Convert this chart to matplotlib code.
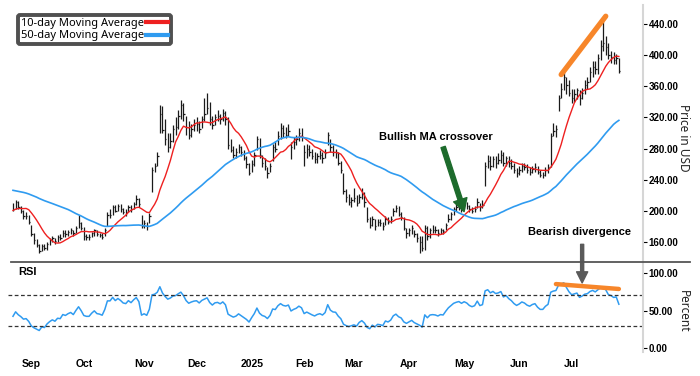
import numpy as np
import pandas as pd
import matplotlib
matplotlib.use('Agg')
import matplotlib.pyplot as plt
from matplotlib.lines import Line2D

# closes before the first visible bar (only feed the moving averages / RSI)
pre_close = [245, 240, 232, 228, 238, 242, 236, 226, 230, 234, 228, 222,
             218, 222, 228, 226, 225, 232, 236, 232, 240, 258, 262, 266, 260, 255,
             260, 255, 244, 238, 245, 248, 245, 238,
             222, 198, 182, 188, 190, 200, 196, 195, 201, 194, 192, 202, 210, 207, 205]

# daily bars, 2024-08-22 .. 2025-07-28
close = [203, 212, 205, 200, 193, 194, 186,
         170, 162, 156, 149, 155, 152, 158, 162, 165, 161, 166, 165, 172, 170, 173, 175, 171, 178, 185, 178,
         168, 166, 166, 171, 175, 170, 169, 167, 176, 195, 195, 205, 200, 206, 203, 199, 198, 205, 202, 209, 215, 209, 181,
         184, 180, 194, 253, 257, 270, 324, 304, 292, 282, 290, 305, 308, 322, 336, 325, 308, 298, 305, 310,
         312, 305, 318, 325, 332, 318, 310, 320, 322, 318, 326, 318, 285, 278, 272, 275, 282, 275, 268, 260, 248,
         260, 272, 292, 272, 262, 258, 248, 258, 282, 280, 296, 306, 300, 298, 302, 282, 288, 292, 300, 295,
         275, 280, 275, 270, 266, 270, 272, 268, 274, 298, 282, 276, 275, 262, 252, 226, 218, 212, 214,
         216, 210, 218, 222, 212, 190, 182, 190, 180, 186, 184, 180, 190, 186, 190, 200, 204, 196, 192, 178, 172,
         175, 178, 170, 165, 160, 152, 178, 168, 175, 176, 175, 172, 175, 174, 182, 190, 196, 202, 205, 207, 204,
         208, 206, 202, 200, 202, 212, 205, 207, 257, 264, 258, 266, 262, 265, 272, 262, 268, 262, 258, 252, 248,
         252, 258, 256, 252, 250, 254, 256, 250, 246, 246, 252, 256, 296, 302, 305, 345, 356, 372, 362, 352,
         345, 350, 355, 345, 352, 362, 365, 378, 385, 382, 396, 412, 415, 410, 400, 398, 394, 396, 380]
high = [210, 214, 213, 206, 201, 199, 195,
        182, 172, 164, 157, 157, 157, 160, 165, 168, 165, 169, 170, 175, 175, 176, 178, 176, 181, 195, 186,
        179, 170, 170, 173, 177, 175, 172, 171, 178, 199, 202, 208, 208, 209, 209, 204, 203, 207, 208, 212, 220, 216, 195,
        188, 186, 197, 256, 262, 275, 336, 335, 318, 300, 300, 310, 320, 330, 342, 338, 322, 315, 312, 318,
        320, 315, 322, 345, 351, 340, 322, 324, 330, 325, 331, 328, 320, 292, 283, 281, 286, 283, 278, 270, 262,
        265, 275, 296, 294, 272, 268, 256, 262, 286, 290, 302, 313, 310, 308, 312, 288, 295, 298, 306, 306,
        285, 286, 285, 280, 275, 274, 278, 276, 280, 301, 292, 284, 280, 276, 264, 248, 228, 222, 218,
        229, 220, 222, 229, 224, 205, 192, 194, 190, 190, 190, 186, 193, 192, 193, 204, 207, 206, 198, 192, 178,
        178, 182, 176, 172, 168, 168, 182, 180, 178, 182, 180, 177, 178, 177, 185, 196, 199, 205, 209, 212, 210,
        214, 212, 208, 205, 206, 216, 210, 214, 263, 272, 270, 270, 270, 274, 278, 275, 271, 270, 266, 262, 255,
        258, 262, 262, 260, 256, 258, 262, 258, 252, 250, 256, 260, 300, 313, 310, 349, 364, 383, 372, 368,
        356, 356, 358, 355, 358, 368, 372, 385, 392, 392, 402, 420, 444, 424, 415, 405, 404, 402, 396]
low = [200, 203, 203, 197, 190, 189, 183,
       168, 158, 153, 146, 148, 150, 150, 156, 160, 158, 160, 162, 166, 167, 168, 170, 168, 172, 178, 175,
       163, 162, 163, 166, 168, 168, 166, 164, 168, 180, 191, 195, 198, 200, 199, 196, 194, 198, 199, 203, 208, 205, 178,
       178, 176, 184, 224, 250, 258, 300, 300, 285, 275, 281, 288, 298, 305, 318, 315, 298, 292, 295, 302,
       303, 300, 306, 315, 325, 310, 305, 310, 316, 312, 316, 310, 280, 275, 268, 268, 274, 270, 265, 255, 246,
       250, 258, 278, 268, 256, 252, 242, 250, 264, 276, 285, 292, 295, 294, 296, 266, 280, 284, 290, 290,
       258, 268, 270, 266, 262, 262, 266, 262, 268, 285, 276, 270, 268, 259, 248, 222, 212, 208, 205,
       212, 206, 210, 215, 205, 186, 178, 180, 176, 180, 180, 176, 182, 183, 184, 194, 198, 194, 188, 175, 165,
       168, 170, 166, 160, 146, 148, 150, 162, 165, 172, 171, 168, 170, 170, 175, 186, 188, 195, 200, 201, 198,
       203, 203, 198, 197, 198, 204, 200, 204, 232, 255, 252, 256, 255, 260, 262, 258, 258, 256, 254, 248, 243,
       246, 250, 252, 248, 246, 248, 250, 247, 243, 242, 245, 249, 256, 296, 295, 328, 345, 355, 350, 348,
       338, 340, 344, 336, 344, 350, 356, 365, 372, 376, 376, 394, 405, 400, 395, 390, 388, 388, 377]

holidays = ['2024-09-02', '2024-11-28', '2024-12-25', '2025-01-01', '2025-01-09', '2025-01-20',
            '2025-02-17', '2025-04-18', '2025-05-26', '2025-06-19', '2025-07-04']
month_labels = ['Sep', 'Oct', 'Nov', 'Dec', '2025', 'Feb', 'Mar', 'Apr', 'May', 'Jun', 'Jul']

price_trend_dates = ['2025-06-25', '2025-07-21']
price_trend_vals = [375, 450]
rsi_trend_dates = ['2025-06-23', '2025-07-28']
rsi_trend_vals = [85, 78.5]

RED = '#ee2020'
BLUE = '#2f9bf0'

dates = pd.bdate_range('2024-08-22', '2025-07-28')
dates = dates[~dates.isin(pd.to_datetime(holidays))]
n = len(close)
x = np.arange(n)
pos = pd.Series(x, index=dates[:n])

allc = pd.Series(pre_close + close, dtype=float)
ma10 = allc.rolling(10).mean().values[-n:]
ma50 = allc.rolling(50).mean().values[-n:]
d = allc.diff()
ag = d.clip(lower=0).ewm(alpha=1/14, adjust=False).mean()
al = (-d).clip(lower=0).ewm(alpha=1/14, adjust=False).mean()
rsi = (100 - 100 / (1 + ag / al)).values[-n:]

plt.rcParams['font.family'] = ['Liberation Sans', 'DejaVu Sans']
fig = plt.figure(figsize=(7, 3.76), dpi=100)
ax = fig.add_axes([8/700, 1-262/376, 635/700, 257/376])
ax2 = fig.add_axes([8/700, 1-352/376, 635/700, 90/376])
for a in (ax, ax2):
    a.patch.set_visible(False)
    for s in ['top', 'left', 'bottom']:
        a.spines[s].set_visible(False)
    a.spines['right'].set_color('#d6d6d6')
    a.spines['right'].set_linewidth(1.5)
    a.set_xlim(-1.9, 240.2)
    a.yaxis.tick_right()
    a.tick_params(axis='y', length=3, width=0.8, pad=1, labelsize=7)

# price panel
ax.vlines(x, low, high, color='#1a1a1a', lw=0.9)
ax.hlines(close, x, x + 0.5, color='#1a1a1a', lw=0.9)
ax.plot(x, ma10, color=RED, lw=1.0)
ax.plot(x, ma50, color=BLUE, lw=1.2)
ax.set_ylim(134.3, 464.4)
yt = list(range(160, 441, 40))
ax.set_yticks(yt, labels=[f'{v:.2f}' for v in yt], fontweight='bold')
ax.tick_params(axis='x', bottom=False, labelbottom=False)
ax.text(1.063, 0.482, 'Price in USD', rotation=270, ha='center', va='center',
        transform=ax.transAxes, fontsize=8.5, family='Noto Sans', color='#222')

ax.plot([pos[t] for t in price_trend_dates], price_trend_vals, color='#f7862a', lw=3.8,
        solid_capstyle='round')

ax.annotate('', xy=(172, 199), xytext=(164, 282),
            arrowprops=dict(facecolor='#1d6b2c', edgecolor='#1d6b2c', width=3.2,
                            headwidth=10, headlength=9, shrink=0))
ax.text(161.3, 295, 'Bullish MA crossover', ha='center', va='center', fontweight='bold', fontsize=8)
ax.text(216, 173, 'Bearish divergence', ha='center', va='center', fontweight='bold', fontsize=8)

handles = [Line2D([], [], color=RED, lw=3), Line2D([], [], color=BLUE, lw=3)]
leg = ax.legend(handles, ['10-day Moving Average', '50-day Moving Average'], loc='upper left',
                bbox_to_anchor=(0.0157, 0.961), markerfirst=False, fancybox=True,
                edgecolor='#505050', framealpha=1, handlelength=2.0, handletextpad=0.2,
                labelspacing=0.15, borderpad=0.25, borderaxespad=0,
                prop={'family': 'Noto Sans', 'size': 8})
leg.get_frame().set_linewidth(2.8)

# RSI panel
ax2.plot(x, rsi, color=BLUE, lw=1.1)
for lvl in (70, 30):
    ax2.axhline(lvl, color='#333333', lw=0.9, dashes=(3, 2))
ax2.set_ylim(-4.9, 114.2)
ax2.set_yticks([0, 50, 100], labels=['0.00', '50.00', '100.00'], fontweight='bold')
ax2.plot([pos[t] for t in rsi_trend_dates], rsi_trend_vals, color='#f7862a', lw=3.2,
         solid_capstyle='round')
ax2.text(0.0157, 0.889, 'RSI', transform=ax2.transAxes, fontweight='bold', fontsize=8, va='center')
ax2.text(1.063, 0.456, 'Percent', rotation=270, ha='center', va='center',
         transform=ax2.transAxes, fontsize=8.5, family='Noto Sans', color='#222')
ax2.annotate('', xy=(217, 86.5), xytext=(217, 157), textcoords=ax.transData,
             arrowprops=dict(facecolor='#5a5a5a', edgecolor='#5a5a5a', width=2.2,
                             headwidth=8, headlength=8, shrink=0), annotation_clip=False)

first_days = pos.groupby([pos.index.year, pos.index.month]).min().values[1:]
ax2.set_xticks(first_days, labels=month_labels, fontweight='bold', fontsize=7.5)
ax2.tick_params(axis='x', length=0, pad=5)

fig.add_artist(Line2D([11/700, 690/700], [1-262/376, 1-262/376], color='#555555', lw=1.3))

fig.savefig('out.png', dpi=100)
